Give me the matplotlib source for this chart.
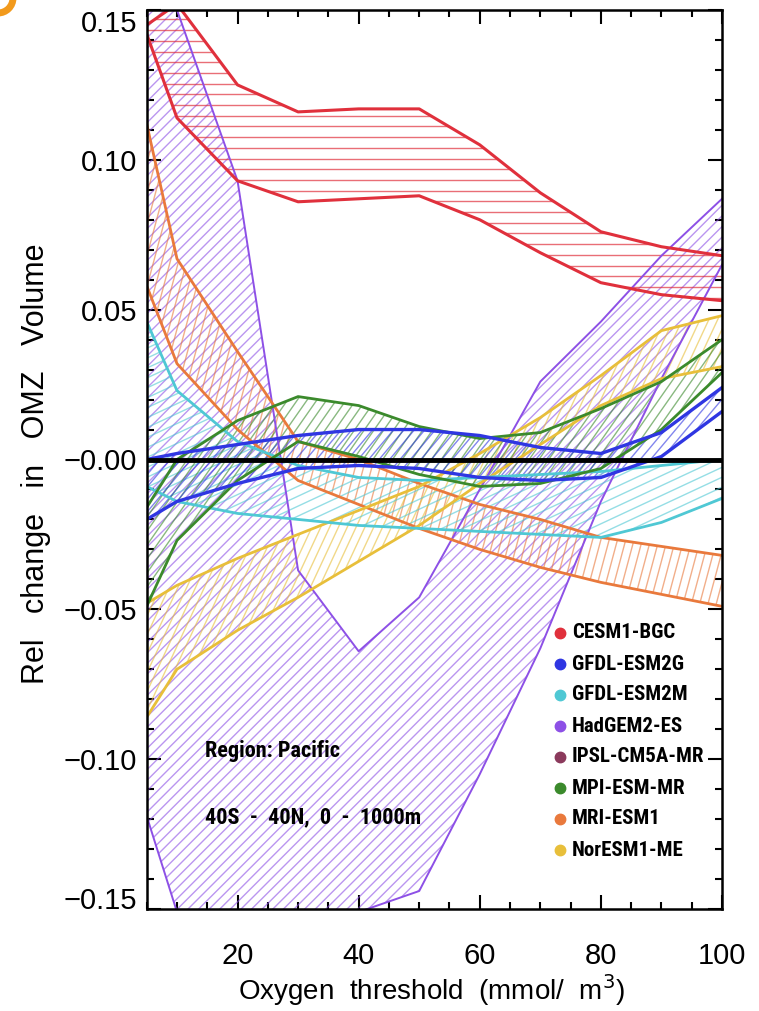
import numpy as np
import matplotlib
matplotlib.use('Agg')
import matplotlib.pyplot as plt
from matplotlib.patches import Polygon, Circle
from matplotlib.collections import LineCollection
from matplotlib.transforms import IdentityTransform
from matplotlib.ticker import MultipleLocator, FixedLocator, FixedFormatter

plt.rcParams['font.family'] = ['Liberation Sans', 'DejaVu Sans']
bold_narrow = ['Liberation Sans Narrow', 'Roboto Condensed', 'Roboto', 'DejaVu Sans']

# oxygen threshold (mmol/m3)
thresholds = [5, 10, 20, 30, 40, 50, 60, 70, 80, 90, 100]

models = ['CESM1-BGC', 'GFDL-ESM2G', 'GFDL-ESM2M', 'HadGEM2-ES',
          'IPSL-CM5A-MR', 'MPI-ESM-MR', 'MRI-ESM1', 'NorESM1-ME']
colors = ['#e0303c', '#2f36e2', '#4fc8d4', '#8d50e6',
          '#8b3a5c', '#3b8a2c', '#e9793c', '#e8bf3a']

# two bounding curves per model (relative change in OMZ volume)
cesm_a = [0.145, 0.152, 0.125, 0.116, 0.117, 0.117, 0.105, 0.089, 0.076, 0.071, 0.068]
cesm_b = [0.142, 0.114, 0.093, 0.086, 0.087, 0.088, 0.080, 0.069, 0.059, 0.055, 0.053]
esm2g_a = [0.000, 0.002, 0.005, 0.008, 0.010, 0.010, 0.008, 0.004, 0.002, 0.009, 0.024]
esm2g_b = [-0.020, -0.014, -0.008, -0.003, -0.002, -0.003, -0.006, -0.007, -0.006, 0.001, 0.016]
esm2m_a = [0.046, 0.023, 0.006, -0.002, -0.006, -0.007, -0.006, -0.005, -0.004, -0.002, 0.000]
esm2m_b = [-0.009, -0.014, -0.018, -0.020, -0.022, -0.023, -0.024, -0.025, -0.026, -0.021, -0.013]
hadgem_a = [0.170, 0.150, 0.093, -0.037, -0.064, -0.046, -0.010, 0.026, 0.046, 0.068, 0.087]
hadgem_b = [-0.119, -0.151, -0.151, -0.151, -0.151, -0.144, -0.105, -0.063, -0.014, 0.027, 0.065]
mpi_a = [-0.016, 0.000, 0.013, 0.021, 0.018, 0.011, 0.007, 0.009, 0.017, 0.026, 0.040]
mpi_b = [-0.049, -0.027, -0.007, 0.006, 0.001, -0.005, -0.009, -0.008, -0.003, 0.010, 0.029]
mri_a = [0.112, 0.067, 0.036, 0.006, 0.000, -0.008, -0.015, -0.020, -0.026, -0.029, -0.032]
mri_b = [0.058, 0.032, 0.010, -0.007, -0.015, -0.023, -0.030, -0.036, -0.041, -0.045, -0.049]
noresm_a = [-0.048, -0.042, -0.033, -0.025, -0.017, -0.009, 0.002, 0.014, 0.028, 0.043, 0.048]
noresm_b = [-0.086, -0.070, -0.057, -0.046, -0.034, -0.022, -0.008, 0.005, 0.018, 0.027, 0.031]

# (model index, curve a, curve b, hatch angle deg, hatch spacing px)
bands = [
    (3, hadgem_a, hadgem_b, 45, 7.5),
    (6, mri_a, mri_b, 75, 8.0),
    (7, noresm_a, noresm_b, 65, 8.0),
    (2, esm2m_a, esm2m_b, 25, 9.0),
    (5, mpi_a, mpi_b, 55, 8.0),
    (1, esm2g_a, esm2g_b, 50, 8.0),
    (0, cesm_a, cesm_b, 0, 10.7),
]
line_widths = {0: 2.2, 1: 2.4, 2: 2.0, 3: 1.4, 5: 2.0, 6: 2.0, 7: 2.0}


def hatch_band(ax, x, ya, yb, color, angle, spacing, alpha=0.6):
    verts = list(zip(x, ya)) + list(zip(x[::-1], yb[::-1]))
    poly = Polygon(verts, closed=True, facecolor='none', edgecolor='none')
    ax.add_patch(poly)
    x0, y0, x1, y1 = ax.bbox.extents
    cx, cy = (x0 + x1) / 2, (y0 + y1) / 2
    diag = np.hypot(x1 - x0, y1 - y0)
    t = np.radians(angle)
    d = np.array([np.cos(t), np.sin(t)])
    n = np.array([-np.sin(t), np.cos(t)])
    inv = ax.transData.inverted()
    segs = []
    for k in np.arange(-diag / 2, diag / 2, spacing):
        p = np.array([cx, cy]) + k * n
        seg = np.array([p - d * diag, p + d * diag])
        segs.append(inv.transform(seg))
    lc = LineCollection(segs, colors=color, linewidths=1.0, alpha=alpha)
    ax.add_collection(lc)
    lc.set_clip_path(poly)


fig = plt.figure(figsize=(7.59, 10.11), dpi=100)
ax = fig.add_axes([146.7 / 759, 1 - 909 / 1011, 575.3 / 759, 899 / 1011])
ax.set_xlim(5, 100)
ax.set_ylim(-0.15, 0.15)

x = np.array(thresholds, dtype=float)
for idx, a, b, ang, sp in bands:
    hatch_band(ax, x, np.array(a), np.array(b), colors[idx], ang, sp,
               alpha=0.7 if idx == 0 else 0.6)
for idx, a, b, ang, sp in bands:
    ax.plot(x, a, color=colors[idx], lw=line_widths[idx])
    ax.plot(x, b, color=colors[idx], lw=line_widths[idx])

ax.axhline(0, color='black', lw=3.5, zorder=5)

for s in ax.spines.values():
    s.set_linewidth(1.8)

ax.xaxis.set_major_locator(FixedLocator([20, 40, 60, 80, 100]))
ax.xaxis.set_minor_locator(MultipleLocator(5))
yt = [-0.15, -0.10, -0.05, 0.0, 0.05, 0.10, 0.15]
ax.yaxis.set_major_locator(FixedLocator(yt))
ax.yaxis.set_major_formatter(FixedFormatter(
    ['\u22120.15', '\u22120.10', '\u22120.05', '\u22120.00', '0.05', '0.10', '0.15']))
ax.yaxis.set_minor_locator(MultipleLocator(0.01))
ax.tick_params(which='both', direction='in', top=True, right=True, width=1.5)
ax.tick_params(which='major', length=10, labelsize=21)
ax.tick_params(which='minor', length=5)
ax.tick_params(axis='x', pad=24)
ax.tick_params(axis='y', pad=7)

# end labels sit inside the axis range, as in the original
yticks = ax.yaxis.get_major_ticks()
yticks[0].label1.set_va('baseline')
yticks[-1].label1.set_va('top')

fig.text(432 / 759, 1 - 990 / 1011, 'Oxygen  threshold  (mmol/  m$^3$)',
         ha='center', va='center', fontsize=20)
fig.text(36 / 759, 1 - 464 / 1011, 'Rel   change   in   OMZ   Volume',
         ha='center', va='center', rotation=90, fontsize=22)

ax.text((205 - 146.7) / 575.3, (909 - 751) / 899, 'Region: Pacific',
        transform=ax.transAxes, fontsize=16, fontweight='bold',
        family=bold_narrow, va='center', ha='left')
ax.text((205 - 146.7) / 575.3, (909 - 817) / 899, '40S  -  40N,  0  -  1000m',
        transform=ax.transAxes, fontsize=16, fontweight='bold',
        family=bold_narrow, va='center', ha='left')

# legend: coloured dots with model names
for i, (name, col) in enumerate(zip(models, colors)):
    yy = (909 - (633 + 31 * i)) / 899
    ax.plot([(560 - 146.7) / 575.3], [yy], 'o', color=col, ms=7.5,
            transform=ax.transAxes, zorder=6)
    ax.text((572 - 146.7) / 575.3, yy, name, transform=ax.transAxes,
            fontsize=15, fontweight='bold', family=bold_narrow,
            va='center', ha='left', zorder=6)

fig.add_artist(Circle((-2, 1013), 15, transform=IdentityTransform(),
                      facecolor='none', edgecolor='#f29a1c', lw=5))

fig.savefig('out.png', dpi=100)
